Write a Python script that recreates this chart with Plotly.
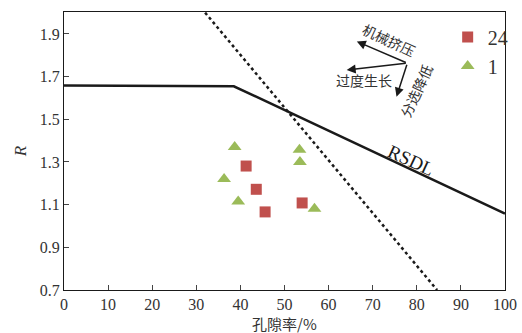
import plotly.graph_objects as go

# data
sq_x = [41.3, 43.6, 45.6, 54.0]
sq_y = [1.281, 1.172, 1.066, 1.108]
tri_x = [38.7, 36.3, 39.5, 53.4, 53.5, 56.8]
tri_y = [1.370, 1.220, 1.115, 1.357, 1.300, 1.081]
rsdl_x = [0, 38.5, 100]
rsdl_y = [1.658, 1.655, 1.058]
dot_x = [32.0, 84.6]
dot_y = [2.0, 0.7]
x_ticks = [0, 10, 20, 30, 40, 50, 60, 70, 80, 90, 100]
y_ticks = [0.7, 0.9, 1.1, 1.3, 1.5, 1.7, 1.9]

serif = "'Liberation Serif', 'Times New Roman', serif"
cjk = "Noto Sans CJK SC"

fig = go.Figure()
fig.add_trace(go.Scatter(x=rsdl_x, y=rsdl_y, mode="lines",
                         line=dict(color="#1a1a1a", width=2.5), showlegend=False))
fig.add_trace(go.Scatter(x=dot_x, y=dot_y, mode="lines",
                         line=dict(color="#1a1a1a", width=2.5, dash="dot"), showlegend=False))
fig.add_trace(go.Scatter(x=sq_x, y=sq_y, mode="markers", name="24",
                         marker=dict(symbol="square", size=11, color="#c0504d")))
fig.add_trace(go.Scatter(x=tri_x, y=tri_y, mode="markers", name="1",
                         marker=dict(symbol="triangle-up", size=12, color="#9bbb59")))

ox, oy = 77.85, 1.763
heads = [(66.4, 1.865), (64.1, 1.731), (75.4, 1.606)]
for hx, hy in heads:
    fig.add_annotation(x=hx, y=hy, ax=ox, ay=oy, xref="x", yref="y", axref="x", ayref="y",
                       showarrow=True, arrowhead=2, arrowsize=1.2, arrowwidth=1.5,
                       arrowcolor="#1a1a1a", text="")

labels = [("机械挤压", 73.7, 1.872, 25), ("过度生长", 68.0, 1.684, 0), ("分选降低", 79.8, 1.634, -65)]
for t, lx, ly, ang in labels:
    fig.add_annotation(x=lx, y=ly, text=t, showarrow=False, textangle=ang,
                       font=dict(size=14, color="#333", family=cjk))
fig.add_annotation(x=78.8, y=1.309, text="RSDL", showarrow=False, textangle=25,
                   font=dict(size=19, color="#1a1a1a", family=serif))
fig.add_annotation(x=0.5, y=0, xref="paper", yref="paper", yanchor="top", yshift=-21,
                   text="孔隙率/%", showarrow=False, font=dict(size=15, color="#333", family=cjk))

fig.update_layout(
    width=522, height=333, margin=dict(l=64, r=17, t=12, b=43, autoexpand=False),
    plot_bgcolor="white", paper_bgcolor="white",
    font=dict(family=serif, size=16, color="#333"),
    legend=dict(x=0.87, y=0.98, xanchor="left", yanchor="top", bgcolor="rgba(0,0,0,0)",
                font=dict(size=20, family=serif), itemwidth=30, tracegroupgap=0),
)
fig.update_xaxes(range=[0, 100], tickvals=x_ticks, ticks="inside", ticklen=5,
                 tickfont=dict(family=serif, size=16, color="#333"),
                 showgrid=False, zeroline=False, showline=True, linecolor="#1a1a1a",
                 linewidth=1.2, mirror=True)
fig.update_yaxes(range=[0.7, 2.003], tickvals=y_ticks, tickformat=".1f", ticks="inside", ticklen=5,
                 tickfont=dict(family=serif, size=16, color="#333"),
                 showgrid=False, zeroline=False, showline=True, linecolor="#1a1a1a",
                 linewidth=1.2, mirror=True,
                 title=dict(text="<i>R</i>", standoff=8, font=dict(size=17, family=serif)))

fig.write_html("out.html")
